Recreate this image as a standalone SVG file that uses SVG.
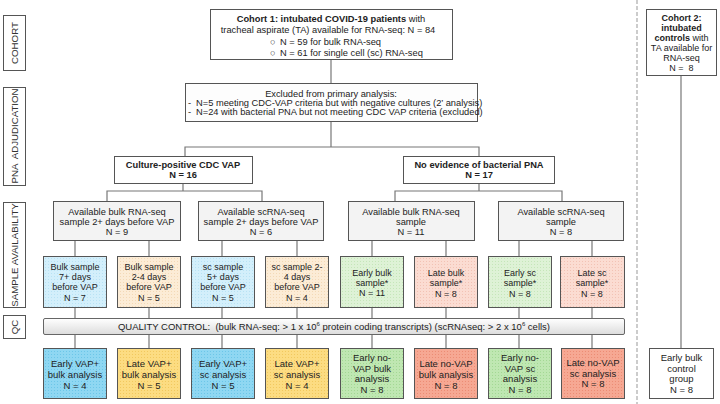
<svg xmlns="http://www.w3.org/2000/svg" width="720" height="404" viewBox="0 0 720 404">
<defs>
<style>
text{font-family:"Liberation Sans",Arial,sans-serif;fill:#222;}
.t{font-size:9.3px;text-anchor:middle;}
.st{text-anchor:start;}
.s{font-size:9px;text-anchor:middle;}
.r{font-size:9.5px;text-anchor:middle;}
.b{font-weight:bold;}
.lbl{font-size:9.7px;text-anchor:middle;fill:#333;}
.box{stroke:#555;stroke-width:1;}
.conn line,.conn polyline{stroke:#777;stroke-width:1.2;fill:none;}
</style>
<pattern id="pBlueL" width="3" height="3" patternUnits="userSpaceOnUse"><rect width="3" height="3" fill="#d3effb"/><rect width="1" height="1" fill="#b8e2f4"/></pattern>
<pattern id="pOrangeL" width="3" height="3" patternUnits="userSpaceOnUse"><rect width="3" height="3" fill="#fcecd6"/><rect width="1" height="1" fill="#f3d9b6"/></pattern>
<pattern id="pGreenL" width="3" height="3" patternUnits="userSpaceOnUse"><rect width="3" height="3" fill="#def2d6"/><rect width="1" height="1" fill="#c5e6b9"/></pattern>
<pattern id="pPinkL" width="3" height="3" patternUnits="userSpaceOnUse"><rect width="3" height="3" fill="#fbdcd2"/><rect width="1" height="1" fill="#f2c2b4"/></pattern>
<pattern id="pBlue" width="3" height="3" patternUnits="userSpaceOnUse"><rect width="3" height="3" fill="#8fd7f2"/><rect width="1" height="1" fill="#6cc6e8"/></pattern>
<pattern id="pYellow" width="3" height="3" patternUnits="userSpaceOnUse"><rect width="3" height="3" fill="#fcdc82"/><rect width="1" height="1" fill="#f1c85e"/></pattern>
<pattern id="pGreen" width="3" height="3" patternUnits="userSpaceOnUse"><rect width="3" height="3" fill="#bfe7b2"/><rect width="1" height="1" fill="#a3d894"/></pattern>
<pattern id="pRed" width="3" height="3" patternUnits="userSpaceOnUse"><rect width="3" height="3" fill="#f6a893"/><rect width="1" height="1" fill="#ec8c74"/></pattern>
<linearGradient id="gQC" x1="0" y1="0" x2="0" y2="1"><stop offset="0" stop-color="#ffffff"/><stop offset="1" stop-color="#dcdcdc"/></linearGradient>
</defs>

<!-- stage labels -->
<g id="stage-labels">
<rect class="box" x="3.5" y="15.5" width="22" height="55" fill="#fff"/>
<text class="lbl" transform="translate(18,43) rotate(-90)">COHORT</text>
<rect class="box" x="3.5" y="87.5" width="22" height="98" fill="#fff"/>
<text class="lbl" xml:space="preserve" transform="translate(18,136) rotate(-90)">PNA  ADJUDICATION</text>
<rect class="box" x="3.5" y="202.5" width="22" height="105" fill="#fff"/>
<text class="lbl" transform="translate(18,255) rotate(-90)">SAMPLE AVAILABILITY</text>
<rect class="box" x="3.5" y="315.5" width="22" height="23" fill="#fff"/>
<text class="lbl" transform="translate(18,327) rotate(-90)">QC</text>
</g>

<!-- divider -->
<line x1="637" y1="0" x2="637" y2="404" stroke="#999" stroke-width="1" stroke-dasharray="4,2"/>

<!-- connectors -->
<g class="conn" id="connectors">
<line x1="331" y1="59" x2="331" y2="84"/>
<line x1="331" y1="121" x2="331" y2="147"/>
<polyline points="185,157 185,147 479,147 479,156"/>
<line x1="183" y1="183" x2="183" y2="191"/>
<polyline points="107,201 107,191 262,191 262,201"/>
<line x1="479" y1="183" x2="479" y2="191"/>
<polyline points="395,201 395,191 562,191 562,201"/>
<line x1="75" y1="240" x2="75" y2="256"/>
<line x1="149" y1="240" x2="149" y2="256"/>
<line x1="222" y1="240" x2="222" y2="256"/>
<line x1="297" y1="240" x2="297" y2="256"/>
<line x1="372" y1="240" x2="372" y2="257"/>
<line x1="446" y1="240" x2="446" y2="257"/>
<line x1="519" y1="240" x2="519" y2="257"/>
<line x1="592" y1="240" x2="592" y2="257"/>
<line x1="75" y1="307" x2="75" y2="318"/>
<line x1="149" y1="307" x2="149" y2="318"/>
<line x1="222" y1="307" x2="222" y2="318"/>
<line x1="297" y1="307" x2="297" y2="318"/>
<line x1="372" y1="307" x2="372" y2="318"/>
<line x1="446" y1="307" x2="446" y2="318"/>
<line x1="519" y1="307" x2="519" y2="318"/>
<line x1="592" y1="307" x2="592" y2="318"/>
<line x1="75" y1="334" x2="75" y2="348"/>
<line x1="149" y1="334" x2="149" y2="348"/>
<line x1="222" y1="334" x2="222" y2="348"/>
<line x1="297" y1="334" x2="297" y2="348"/>
<line x1="372" y1="334" x2="372" y2="348"/>
<line x1="446" y1="334" x2="446" y2="348"/>
<line x1="519" y1="334" x2="519" y2="348"/>
<line x1="592" y1="334" x2="592" y2="348"/>
<line x1="681" y1="76" x2="681" y2="348"/>
</g>

<!-- cohort 1 -->
<g id="cohort1">
<rect class="box" x="210.5" y="9.5" width="242" height="50" fill="#fff"/>
<text class="t" x="331" y="21.5"><tspan class="b">Cohort 1: intubated COVID-19 patients</tspan> with</text>
<text class="t" x="328" y="32.5">tracheal aspirate (TA) available for RNA-seq: N = 84</text>
<text class="t st" x="270" y="44.5">○</text>
<text class="t st" x="280" y="44.5">N = 59 for bulk RNA-seq</text>
<text class="t st" x="270" y="55.5">○</text>
<text class="t st" x="280" y="55.5">N = 61 for single cell (sc) RNA-seq</text>
</g>

<!-- excluded -->
<g id="excluded">
<rect class="box" x="185.5" y="83.5" width="292" height="38" fill="#fdfdfd"/>
<text class="t" x="331" y="96.5">Excluded from primary analysis:</text>
<text class="t st" x="188" y="105.5">-</text>
<text class="t st" x="196" y="105.5">N=5 meeting CDC-VAP criteria but with negative cultures (2’ analysis)</text>
<text class="t st" x="188" y="114.5">-</text>
<text class="t st" x="196" y="114.5">N=24 with bacterial PNA but not meeting CDC VAP criteria (excluded)</text>
</g>

<!-- PNA groups -->
<g id="vap-pos">
<rect class="box" x="114.5" y="156.5" width="138" height="27" fill="#fff"/>
<text class="t b" x="183" y="167.5">Culture-positive CDC VAP</text>
<text class="t b" x="183" y="178">N = 16</text>
</g>
<g id="no-pna">
<rect class="box" x="403.5" y="156.5" width="151" height="27" fill="#fff"/>
<text class="t b" x="479" y="167.5">No evidence of bacterial PNA</text>
<text class="t b" x="479" y="178">N = 17</text>
</g>

<!-- availability -->
<g id="avail-bulk-vap">
<rect class="box" x="53.5" y="201.5" width="127" height="39" fill="#f3f3f3"/>
<text class="t" x="117" y="214.5">Available bulk RNA-seq</text>
<text class="t" x="117" y="224.5">sample 2+ days before VAP</text>
<text class="t" x="117" y="234.5">N = 9</text>
</g>
<g id="avail-sc-vap">
<rect class="box" x="198.5" y="201.5" width="125" height="39" fill="#f3f3f3"/>
<text class="t" x="261" y="214.5">Available scRNA-seq</text>
<text class="t" x="261" y="224.5">sample 2+ days before VAP</text>
<text class="t" x="261" y="234.5">N = 6</text>
</g>
<g id="avail-bulk-nopna">
<rect class="box" x="348.5" y="201.5" width="126" height="39" fill="#f3f3f3"/>
<text class="t" x="411" y="214.5">Available bulk RNA-seq</text>
<text class="t" x="411" y="224.5">sample</text>
<text class="t" x="411" y="234.5">N = 11</text>
</g>
<g id="avail-sc-nopna">
<rect class="box" x="498.5" y="201.5" width="125" height="39" fill="#f3f3f3"/>
<text class="t" x="561" y="214.5">Available scRNA-seq</text>
<text class="t" x="561" y="224.5">sample</text>
<text class="t" x="561" y="234.5">N = 8</text>
</g>

<!-- sample row -->
<g id="bulk-7">
<rect class="box" x="43.5" y="256.5" width="63" height="51" fill="url(#pBlueL)"/>
<text class="s" x="75" y="269.5">Bulk sample</text>
<text class="s" x="75" y="279.5">7+ days</text>
<text class="s" x="75" y="290">before VAP</text>
<text class="s" x="75" y="301">N = 7</text>
</g>
<g id="bulk-24">
<rect class="box" x="117.5" y="256.5" width="63" height="51" fill="url(#pOrangeL)"/>
<text class="s" x="149" y="269.5">Bulk sample</text>
<text class="s" x="149" y="279.5">2-4 days</text>
<text class="s" x="149" y="290">before VAP</text>
<text class="s" x="149" y="301">N = 5</text>
</g>
<g id="sc-5">
<rect class="box" x="191.5" y="256.5" width="63" height="51" fill="url(#pBlueL)"/>
<text class="s" x="223" y="269.5">sc sample</text>
<text class="s" x="223" y="279.5">5+ days</text>
<text class="s" x="223" y="290">before VAP</text>
<text class="s" x="223" y="301">N = 5</text>
</g>
<g id="sc-24">
<rect class="box" x="265.5" y="256.5" width="63" height="51" fill="url(#pOrangeL)"/>
<text class="s" x="297" y="269.5">sc sample 2-</text>
<text class="s" x="297" y="279.5">4 days</text>
<text class="s" x="297" y="290">before VAP</text>
<text class="s" x="297" y="301">N = 4</text>
</g>
<g id="early-bulk">
<rect class="box" x="340.5" y="256.5" width="63" height="51" fill="url(#pGreenL)"/>
<text class="s" x="372" y="275.5">Early bulk</text>
<text class="s" x="372" y="285.5">sample*</text>
<text class="s" x="372" y="296">N = 11</text>
</g>
<g id="late-bulk">
<rect class="box" x="414.5" y="256.5" width="63" height="51" fill="url(#pPinkL)"/>
<text class="s" x="446" y="276">Late bulk</text>
<text class="s" x="446" y="286">sample*</text>
<text class="s" x="446" y="296.5">N = 8</text>
</g>
<g id="early-sc">
<rect class="box" x="488.5" y="256.5" width="63" height="51" fill="url(#pGreenL)"/>
<text class="s" x="520" y="276">Early sc</text>
<text class="s" x="520" y="286">sample*</text>
<text class="s" x="520" y="296.5">N = 8</text>
</g>
<g id="late-sc">
<rect class="box" x="560.5" y="256.5" width="64" height="51" fill="url(#pPinkL)"/>
<text class="s" x="592" y="276">Late sc</text>
<text class="s" x="592" y="286">sample*</text>
<text class="s" x="592" y="296.5">N = 8</text>
</g>

<!-- QC -->
<g id="qc">
<rect x="43.5" y="318.5" width="581" height="16" rx="1.5" fill="url(#gQC)" stroke="#666" stroke-width="1"/>
<text class="r" xml:space="preserve" x="334" y="330">QUALITY CONTROL:  (bulk RNA-seq: &gt; 1 x 10<tspan font-size="6" dy="-4">6</tspan><tspan dy="4"> protein coding transcripts) (scRNAseq: &gt; 2 x 10</tspan><tspan font-size="6" dy="-4">6</tspan><tspan dy="4"> cells)</tspan></text>
</g>

<!-- analysis row -->
<g id="early-vap-bulk">
<rect class="box" x="43.5" y="348.5" width="63" height="50" fill="url(#pBlue)"/>
<text class="r" x="75" y="366.5">Early VAP+</text>
<text class="r" x="75" y="377.5">bulk analysis</text>
<text class="r" x="75" y="388.5">N = 4</text>
</g>
<g id="late-vap-bulk">
<rect class="box" x="117.5" y="348.5" width="63" height="50" fill="url(#pYellow)"/>
<text class="r" x="149" y="366.5">Late VAP+</text>
<text class="r" x="149" y="377.5">bulk analysis</text>
<text class="r" x="149" y="388.5">N = 5</text>
</g>
<g id="early-vap-sc">
<rect class="box" x="191.5" y="348.5" width="63" height="50" fill="url(#pBlue)"/>
<text class="r" x="223" y="366.5">Early VAP+</text>
<text class="r" x="223" y="377.5">sc analysis</text>
<text class="r" x="223" y="388.5">N = 5</text>
</g>
<g id="late-vap-sc">
<rect class="box" x="265.5" y="348.5" width="63" height="50" fill="url(#pYellow)"/>
<text class="r" x="297" y="366.5">Late VAP+</text>
<text class="r" x="297" y="377.5">sc analysis</text>
<text class="r" x="297" y="388.5">N = 4</text>
</g>
<g id="early-novap-bulk">
<rect class="box" x="340.5" y="348.5" width="63" height="50" fill="url(#pGreen)"/>
<text class="r" x="372" y="360.5">Early no-</text>
<text class="r" x="372" y="371.5">VAP bulk</text>
<text class="r" x="372" y="381.5">analysis</text>
<text class="r" x="372" y="392.5">N = 8</text>
</g>
<g id="late-novap-bulk">
<rect class="box" x="414.5" y="348.5" width="63" height="50" fill="url(#pRed)"/>
<text class="r" x="446" y="366.5">Late no-VAP</text>
<text class="r" x="446" y="377.5">bulk analysis</text>
<text class="r" x="446" y="388.5">N = 8</text>
</g>
<g id="early-novap-sc">
<rect class="box" x="488.5" y="348.5" width="63" height="50" fill="url(#pGreen)"/>
<text class="r" x="520" y="360.5">Early no-</text>
<text class="r" x="520" y="371.5">VAP sc</text>
<text class="r" x="520" y="381.5">analysis</text>
<text class="r" x="520" y="392.5">N = 8</text>
</g>
<g id="late-novap-sc">
<rect class="box" x="561.5" y="348.5" width="63" height="50" fill="url(#pRed)"/>
<text class="r" x="593" y="365.5">Late no-VAP</text>
<text class="r" x="593" y="376.5">sc analysis</text>
<text class="r" x="593" y="387">N = 8</text>
</g>

<!-- cohort 2 -->
<g id="cohort2">
<rect class="box" x="646.5" y="9.5" width="70" height="66" fill="#fff"/>
<text class="s b" x="681.5" y="20.5">Cohort 2:</text>
<text class="s b" x="681.5" y="30.5">intubated</text>
<text class="s" x="681.5" y="40.5"><tspan class="b">controls</tspan> with</text>
<text class="s" x="681.5" y="50.5">TA available for</text>
<text class="s" x="681.5" y="60.5">RNA-seq</text>
<text class="s" x="681.5" y="70.5" xml:space="preserve">N =  8</text>
</g>
<g id="control-group">
<rect class="box" x="649.5" y="348.5" width="64" height="50" fill="#fff"/>
<text class="r" x="681.5" y="360.5">Early bulk</text>
<text class="r" x="681.5" y="371.5">control</text>
<text class="r" x="681.5" y="381.5">group</text>
<text class="r" x="681.5" y="392.5">N = 8</text>
</g>
</svg>
